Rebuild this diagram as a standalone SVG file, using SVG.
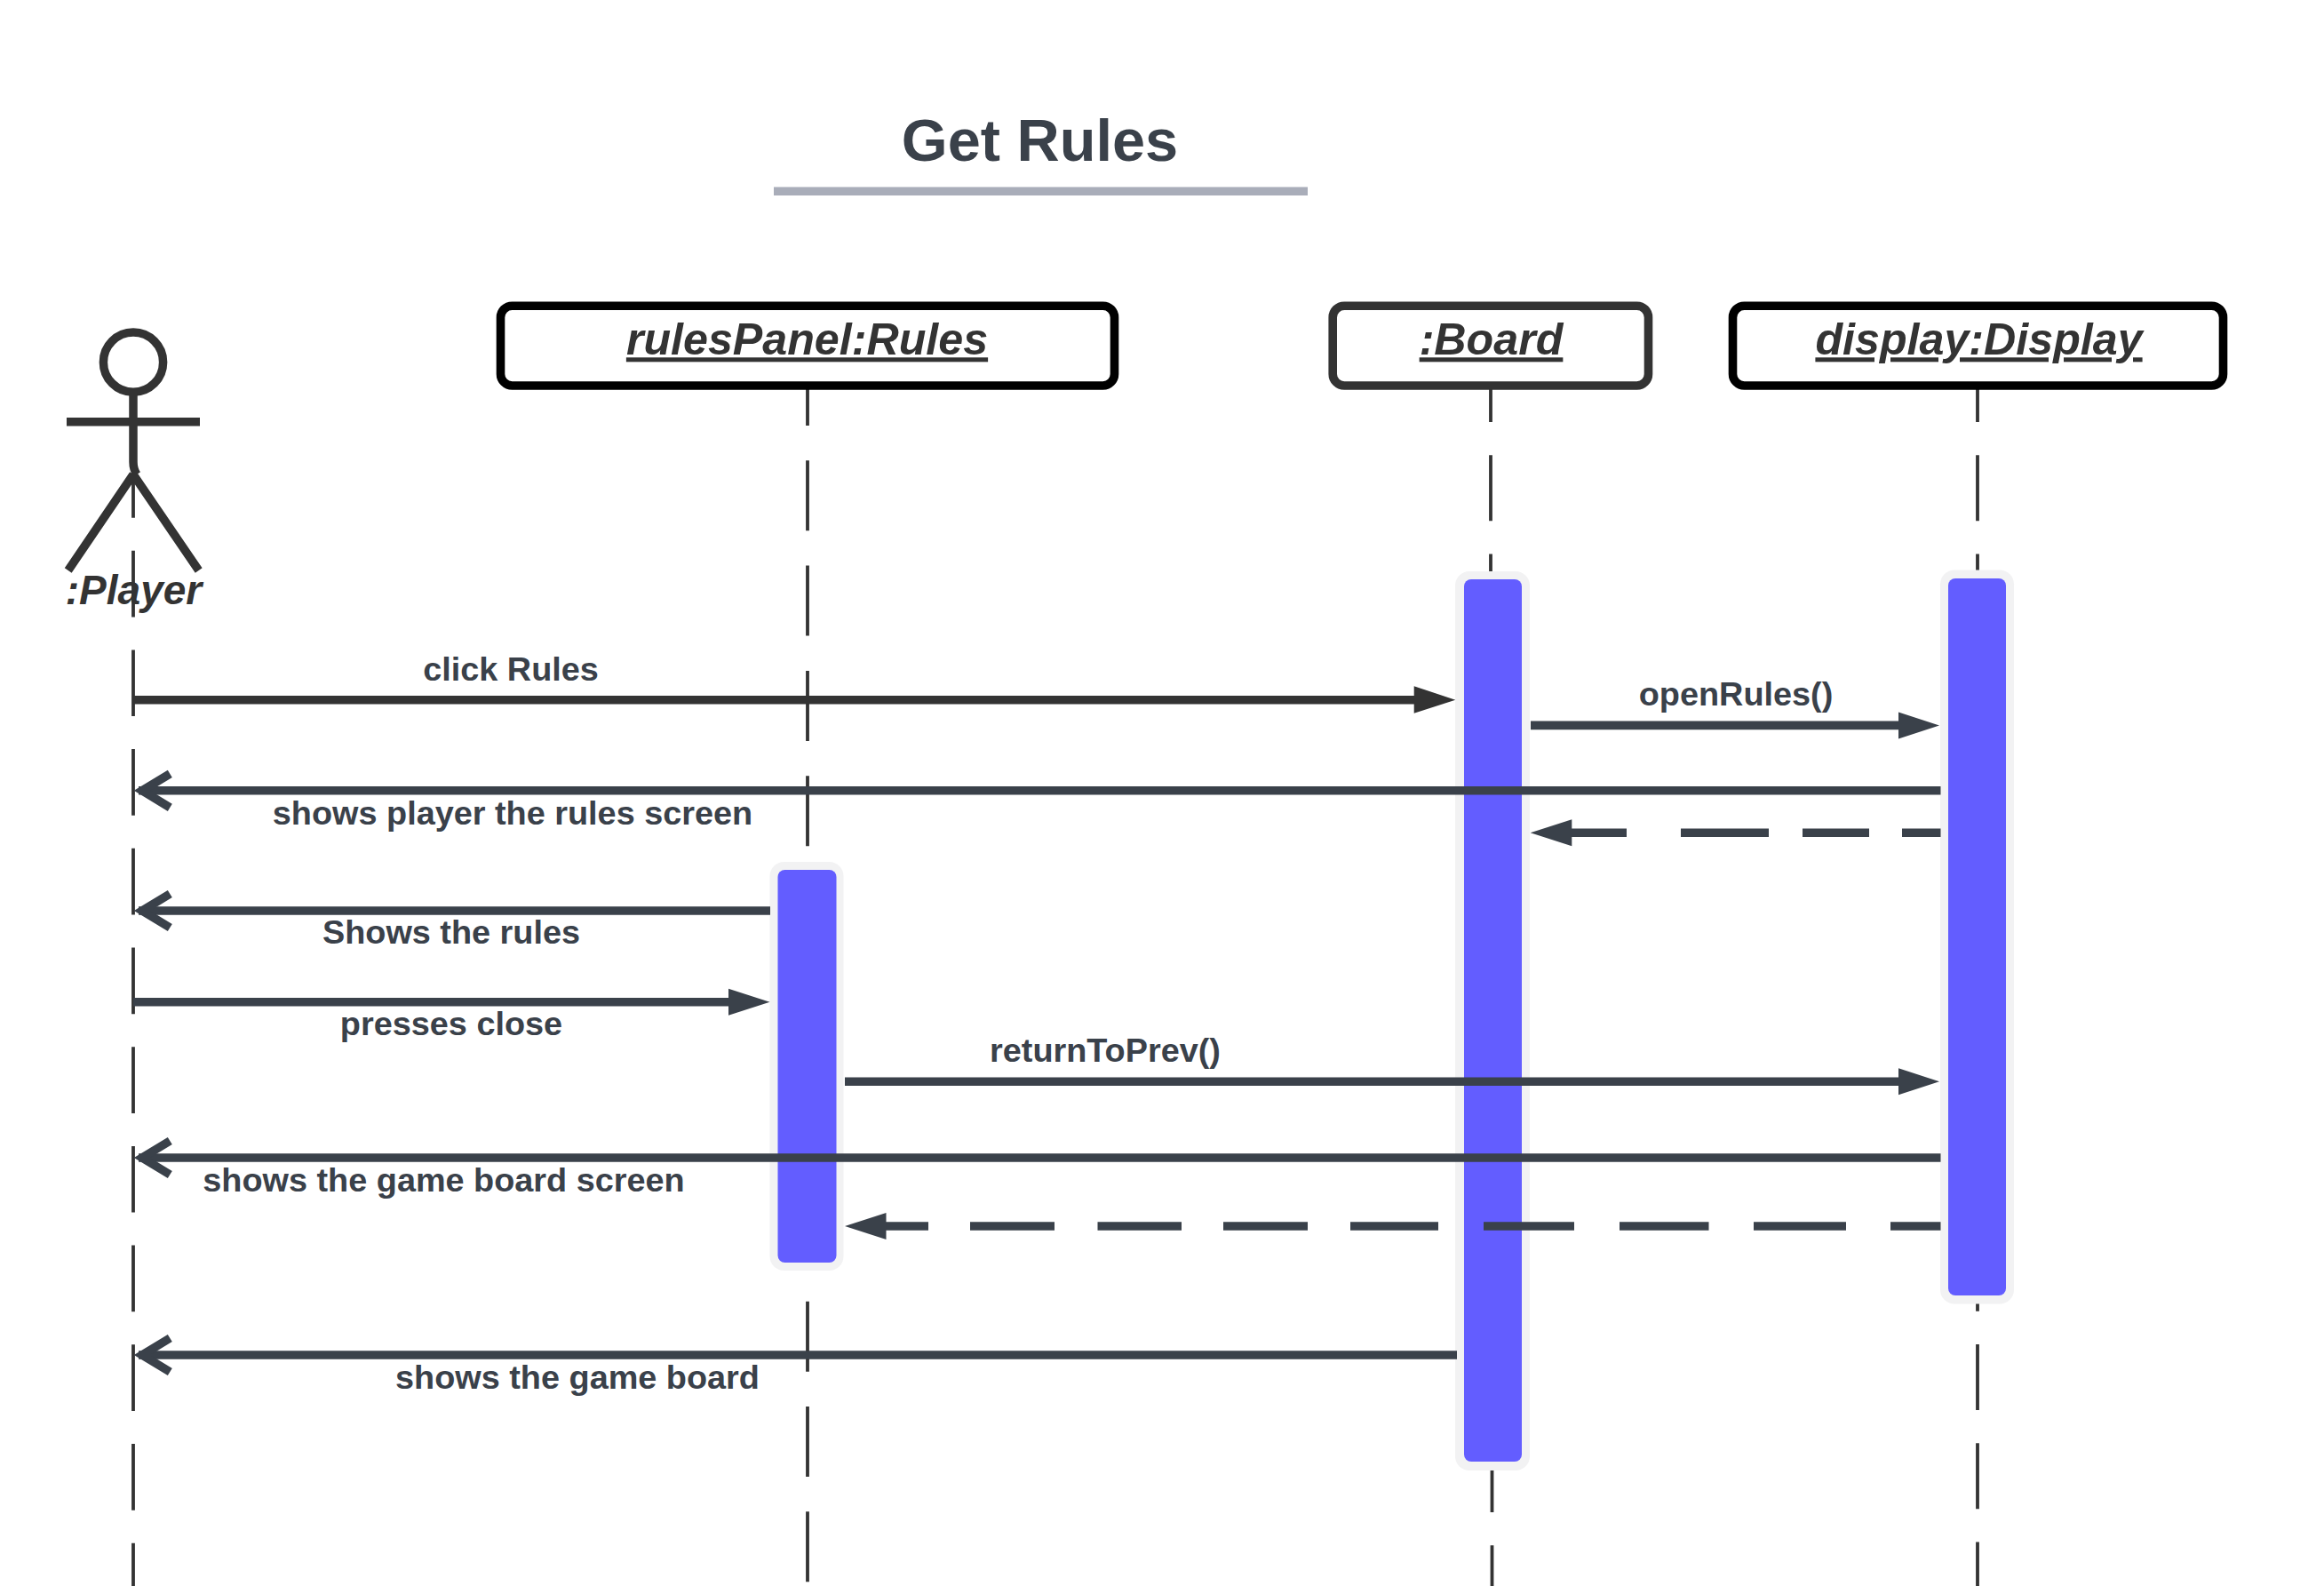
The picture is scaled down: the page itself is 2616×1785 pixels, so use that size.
<svg xmlns="http://www.w3.org/2000/svg" width="2616" height="1785" viewBox="0 0 2616 1785">
<defs>
<style>
text{font-family:"Liberation Sans",Arial,sans-serif;font-weight:700;text-anchor:middle}
.title{font-size:66.7px;fill:#3a414a}
.obj{font-size:50.200px;font-style:italic;fill:#333;text-decoration:underline}
.msg{font-size:37.850px;fill:#3a414a}
.box{fill:#fff;stroke-width:9.600}
.life{fill:none;stroke:#333;stroke-width:3.800;stroke-dasharray:74.700 37}
.halo{fill:#f2f2f3}
.bar{fill:#635dff}
.actor{fill:none;stroke:#333;stroke-width:9.500}
.line{fill:none;stroke:#3a414a;stroke-width:9.600}
.open{fill:none;stroke:#3a414a;stroke-width:9.600;stroke-miterlimit:10}
.head{fill:#3a414a}
</style>
</defs>
<rect width="2616" height="1785" fill="#fff"/>
<g id="title">
<text class="title" x="1170.500" y="180.500">Get Rules</text>
<rect x="871" y="210.500" width="601" height="9.500" fill="#a9adb9"/>
</g>
<g id="player">
<path class="life" d="M150 508V1785"/>
<circle class="actor" cx="150" cy="407.700" r="33.600"/>
<path class="actor" d="M150 442V520Q150 528 154 534M75 474.700H225M150 534L76.700 642M150 534L223.700 642"/>
<text x="150.500" y="680" style="font-size:46px;font-style:italic;fill:#333">:Player</text>
</g>
<g id="rulesPanel">
<path class="life" style="stroke-dasharray:79 39.3;stroke-dashoffset:38" d="M909 438V1782"/>
<rect class="box" x="563.500" y="344.200" width="691" height="89.800" rx="13" stroke="#000"/>
<text class="obj" x="908.500" y="399.300">rulesPanel:Rules</text>
<rect class="halo" x="866.500" y="970" width="83" height="460" rx="16"/>
<rect class="bar" x="875.500" y="979" width="66" height="442" rx="8"/>
</g>
<g id="board">
<path class="life" style="stroke-dasharray:74 37.2;stroke-dashoffset:37" d="M1678 438V645"/>
<path class="life" style="stroke-dasharray:74 37.2" d="M1679.500 1628V1785"/>
<rect class="box" x="1500.200" y="344.200" width="355.300" height="89.800" rx="13" stroke="#333"/>
<text class="obj" x="1678.500" y="399.300">:Board</text>
<rect class="halo" x="1638" y="643" width="84" height="1012" rx="16"/>
<rect class="bar" x="1648" y="652" width="65" height="993" rx="8"/>
</g>
<g id="display">
<path class="life" style="stroke-dasharray:74 37.2;stroke-dashoffset:37" d="M2226 438V1785"/>
<rect class="box" x="1950.500" y="344.200" width="552" height="89.800" rx="13" stroke="#000"/>
<text class="obj" x="2227.500" y="399.300">display:Display</text>
<rect class="halo" x="2184" y="641.500" width="83" height="826" rx="16"/>
<rect class="bar" x="2193" y="651" width="65" height="807" rx="8"/>
</g>
<g id="connectors">
<path class="line" style="stroke:#333" d="M150 787.800H1595"/>
<path d="M1591.700 772.300L1638.300 787.800L1591.700 802.800Z" fill="#333"/>
<path class="line" d="M1723 816.400H2140"/>
<path class="head" d="M2137 801.400L2183 816.400L2137 831.400Z"/>
<path class="line" d="M2184.500 889.800H156"/>
<path class="open" d="M191.300 870.800L160 889.800L191.300 908.800"/>
<path class="line" d="M1766 937.300H1831M1892 937.300H1991M2029 937.300H2104M2141 937.300H2184.500"/>
<path class="head" d="M1769.300 922.300L1722.700 937.300L1769.300 952.300Z"/>
<path class="line" d="M867 1025H156"/>
<path class="open" d="M191.300 1006L160 1025L191.300 1044"/>
<path class="line" d="M150 1127.800H823"/>
<path class="head" d="M820 1112.800L866.500 1127.800L820 1142.800Z"/>
<path class="line" d="M951 1217.200H2140"/>
<path class="head" d="M2137 1202.200L2183 1217.200L2137 1232.200Z"/>
<path class="line" d="M2184.500 1303H156"/>
<path class="open" d="M191.300 1284L160 1303L191.300 1322"/>
<path class="line" d="M995 1380H1045M1092 1380H1187M1235.500 1380H1330M1377 1380H1472M1520 1380H1619M1670 1380H1772M1823 1380H1923.500M1974 1380H2078M2128 1380H2184.500"/>
<path class="head" d="M997.500 1365L951 1380L997.500 1395Z"/>
<path class="line" d="M1640 1525H156"/>
<path class="open" d="M191.300 1506L160 1525L191.300 1544"/>
</g>
<g id="labels">
<text class="msg" x="575" y="765.500">click Rules</text>
<text class="msg" x="1954" y="793.500">openRules()</text>
<text class="msg" x="577" y="927.500">shows player the rules screen</text>
<text class="msg" x="508" y="1062">Shows the rules</text>
<text class="msg" x="508" y="1165">presses close</text>
<text class="msg" x="1244" y="1194.500">returnToPrev()</text>
<text class="msg" x="499.500" y="1340.500">shows the game board screen</text>
<text class="msg" x="650" y="1563">shows the game board</text>
</g>
</svg>
